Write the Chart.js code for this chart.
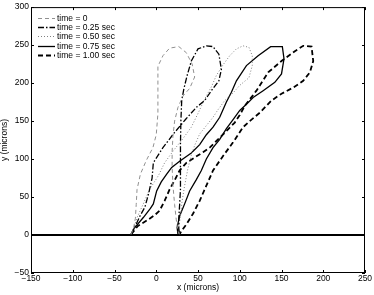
<!DOCTYPE html>
<html>
<head>
<meta charset="utf-8">
<script src="https://cdn.jsdelivr.net/npm/chart.js@4"></script>
<style>
  body { margin: 0; background: #fff; }
</style>
</head>
<body>
<canvas id="chart" width="374" height="295"></canvas>
<script>
// ===========================================
// Data (microns)
// ===========================================
var legendLabels = ["time = 0", "time = 0.25 sec", "time = 0.50 sec", "time = 0.75 sec", "time = 1.00 sec"];

var xTicks = [-150, -100, -50, 0, 50, 100, 150, 200, 250];
var yTicks = [-50, 0, 50, 100, 150, 200, 250, 300];

// time = 0
var t0_x = [-30, -27, -25, -24, -23, -19, -12, -4, 0, 2, 2, 2, 8, 16, 27, 36, 43, 46, 40, 32, 26, 22, 20, 19, 19, 20, 22, 24, 26, 28];
var t0_y = [1, 10, 22, 40, 60, 80, 98, 115, 132, 160, 190, 222, 236, 246, 248, 240, 225, 208, 193, 183, 168, 150, 130, 110, 90, 65, 40, 20, 5, 1];

// time = 0.25 sec
var t25_x = [-30, -25, -19.5, -13.5, -9, -5, -3.5, 8, 20.5, 35, 48, 58, 66, 75, 78, 75, 68, 60, 50, 42, 37, 33, 30.5, 29.5, 29, 29, 29, 28, 27, 27, 28];
var t25_y = [1, 12, 25, 37, 55, 75, 95, 115, 133, 152, 168, 177, 190, 203, 218, 238, 248, 249, 245, 229, 210, 192, 177, 150, 120, 90, 60, 40, 22, 8, 1];

// time = 0.50 sec
var t50_x = [-30, -25, -23, -15.5, -8, 2.5, 10, 20.5, 32, 42, 50, 58, 66, 72, 80, 88, 96, 104, 111, 115, 115, 111, 100, 92, 82, 74, 68, 60, 52, 46, 42, 38, 34, 31, 29, 27, 27];
var t50_y = [1, 15, 23, 41, 60, 78, 95, 111, 127, 142, 160, 179, 195, 210, 224, 236, 245, 249, 247, 236, 223, 207, 197, 187, 177, 165, 155, 144, 133, 118, 105, 88, 65, 45, 25, 10, 1];

// time = 0.75 sec
var t75_x = [-30, -27, -15.5, -7, -3.5, 0.5, 6, 12.5, 18.5, 28, 42, 52, 60, 68, 76, 84, 90, 96, 108, 122, 137, 151, 153, 150, 142, 128, 116, 108, 100, 92, 84, 76, 68, 60, 54, 48, 40, 34, 28, 25, 26];
var t75_y = [1, 8, 23, 35, 41, 58, 70, 80, 89, 97, 108, 119, 132, 142, 155, 175, 188, 203, 223, 236, 248, 248, 232, 212, 201, 190, 181, 172, 164, 152, 140, 126, 115, 100, 85, 73, 58, 41, 25, 10, 1];

// time = 1.00 sec
var t100_x = [-30, -22, -10, -2, 4, 10, 16, 22, 28, 36, 46, 56, 64, 76, 86, 94, 100, 106, 120, 134, 150, 166, 176, 186, 188, 184, 176, 164, 150, 138, 124, 112, 104, 92, 80, 68, 60, 52, 44, 36, 30, 28];
var t100_y = [1, 12, 20, 26, 32, 45, 60, 72, 85, 95, 102, 109, 115, 128, 139, 148, 158, 170, 190, 214, 229, 242, 249, 248, 229, 214, 203, 194, 186, 177, 161, 150, 142, 122, 104, 85, 65, 45, 28, 14, 5, 1];

// substrate line
var base_x = [-150, 250];
var base_y = [0, 0];

// ===========================================
// Functions
// ===========================================
function toPoints(xs, ys) {
	return xs.map(function (v, i) { return { x: v, y: ys[i] }; });
}

function curve(label, xs, ys, color, width, dash) {
	return {
		label: label,
		data: toPoints(xs, ys),
		showLine: true,
		borderColor: color,
		borderWidth: width,
		borderDash: dash,
		pointRadius: 0,
		fill: false,
		tension: 0
	};
}

function minusSign(v) {
	return String(v).replace('-', '\u2212');
}

// box, inward ticks and legend in the MATLAB style
var matlabFrame = {
	id: 'matlabFrame',
	afterDatasetsDraw: function (chart) {
		var ctx = chart.ctx, a = chart.chartArea;
		var sx = chart.scales.x, sy = chart.scales.y;
		var tl = 3;
		ctx.save();
		ctx.setLineDash([]);
		ctx.strokeStyle = '#000';
		ctx.lineWidth = 1;
		ctx.strokeRect(a.left + 0.5, a.top + 0.5, a.right - a.left - 1, a.bottom - a.top - 1);
		ctx.beginPath();
		xTicks.forEach(function (v) {
			var px = Math.round(sx.getPixelForValue(v)) + 0.5;
			ctx.moveTo(px, a.bottom); ctx.lineTo(px, a.bottom - tl);
			ctx.moveTo(px, a.top); ctx.lineTo(px, a.top + tl);
		});
		yTicks.forEach(function (v) {
			var py = Math.round(sy.getPixelForValue(v)) + 0.5;
			ctx.moveTo(a.left, py); ctx.lineTo(a.left + tl, py);
			ctx.moveTo(a.right, py); ctx.lineTo(a.right - tl, py);
		});
		ctx.stroke();

		// legend
		ctx.font = '8.5px "Liberation Sans", Arial, sans-serif';
		ctx.textBaseline = 'middle';
		ctx.fillStyle = '#000';
		var x0 = a.left + 7, x1 = a.left + 24, rowY = a.top + 10.5, step = 9.3;
		chart.data.datasets.forEach(function (ds, i) {
			if (i >= legendLabels.length) return;
			var yy = Math.round(rowY + i * step) + 0.5;
			ctx.strokeStyle = ds.borderColor;
			ctx.lineWidth = ds.borderWidth;
			ctx.setLineDash(ds.borderDash || []);
			ctx.beginPath();
			ctx.moveTo(x0, yy); ctx.lineTo(x1, yy);
			ctx.stroke();
			ctx.fillText(ds.label, x1 + 2, yy);
		});
		ctx.restore();
	}
};

// ===========================================
// Chart
// ===========================================
var tickFont = { family: '"Liberation Sans", Arial, sans-serif', size: 8.5 };

new Chart(document.getElementById('chart').getContext('2d'), {
	type: 'scatter',
	data: {
		datasets: [
			curve(legendLabels[0], t0_x, t0_y, '#909090', 1, [4, 3]),
			curve(legendLabels[1], t25_x, t25_y, '#000', 1.3, [6, 2, 1.5, 2]),
			curve(legendLabels[2], t50_x, t50_y, '#808080', 1, [1, 2]),
			curve(legendLabels[3], t75_x, t75_y, '#000', 1.3, []),
			curve(legendLabels[4], t100_x, t100_y, '#000', 1.8, [5, 3]),
			curve('', base_x, base_y, '#000', 2, [])
		]
	},
	options: {
		responsive: false,
		animation: false,
		layout: { padding: { top: 6, right: 9, left: 0, bottom: 0 } },
		plugins: {
			legend: { display: false },
			tooltip: { enabled: false }
		},
		scales: {
			x: {
				type: 'linear',
				min: -150,
				max: 250,
				grid: { display: false, drawTicks: false },
				border: { display: false },
				afterBuildTicks: function (s) { s.ticks = xTicks.map(function (v) { return { value: v }; }); },
				ticks: { font: tickFont, color: '#000', padding: 1, maxRotation: 0, autoSkip: false, callback: minusSign },
				title: { display: true, text: 'x (microns)', font: tickFont, color: '#000', padding: { top: 0, bottom: 2 } },
				afterFit: function (s) { s.height = 22; }
			},
			y: {
				type: 'linear',
				min: -50,
				max: 300,
				grid: { display: false, drawTicks: false },
				border: { display: false },
				afterBuildTicks: function (s) { s.ticks = yTicks.map(function (v) { return { value: v }; }); },
				ticks: { font: tickFont, color: '#000', padding: 2, autoSkip: false, callback: minusSign },
				title: { display: true, text: 'y (microns)', font: tickFont, color: '#000', padding: { top: 0, bottom: 0 } },
				afterFit: function (s) { s.width = 31; }
			}
		}
	},
	plugins: [matlabFrame]
});
</script>
</body>
</html>
